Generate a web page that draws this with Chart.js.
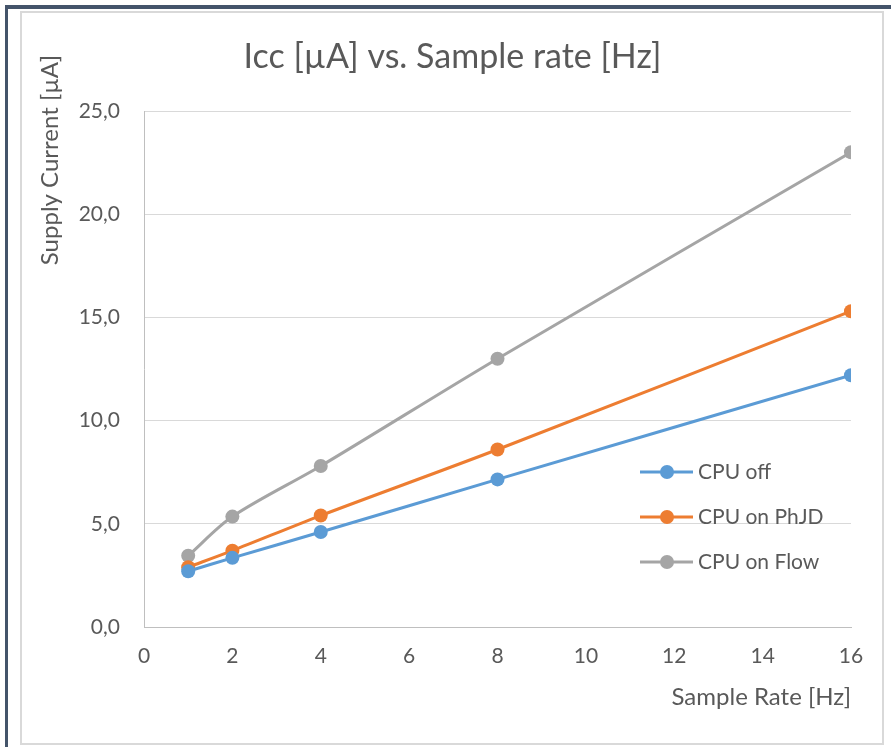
<!DOCTYPE html>
<html>
<head>
<meta charset="utf-8">
<script src="https://cdn.jsdelivr.net/npm/chart.js@4"></script>
<style>
html,body{margin:0;padding:0;background:#fff;}
#wrap{width:891px;height:747px;position:relative;}
</style>
</head>
<body>
<div id="wrap"><canvas id="c" width="891" height="747"></canvas></div>
<script>
const sampleRates = [1, 2, 4, 8, 16];
const cpuOff = [2.7, 3.35, 4.6, 7.15, 12.2];
const cpuOnPhJD = [2.9, 3.7, 5.4, 8.6, 15.3];
const cpuOnFlow = [3.45, 5.35, 7.8, 13.0, 23.0];
const seriesNames = ['CPU off', 'CPU on PhJD', 'CPU on Flow'];
const seriesColors = ['#5b9bd5', '#ed7d31', '#a5a5a5'];
const chartTitle = 'Icc [µA] vs. Sample rate [Hz]';
const yTitle = 'Supply Current [µA]';
const xTitle = 'Sample Rate [Hz]';

const FONT = 'Lato';
const TXT = '#595959';

function pts(vals){ return sampleRates.map((x,i)=>({x:x,y:vals[i]})); }
const allSeries = [cpuOff, cpuOnPhJD, cpuOnFlow];

const framePlugin = {
  id:'frame',
  beforeDraw(chart){
    const ctx = chart.ctx;
    ctx.save();
    ctx.fillStyle = '#fff';
    ctx.fillRect(0,0,chart.width,chart.height);
    ctx.fillStyle = '#44546a';
    ctx.fillRect(5,5,chart.width-5,4);
    ctx.fillRect(5,5,3,chart.height-5);
    ctx.strokeStyle = '#d9d9d9';
    ctx.lineWidth = 2;
    ctx.strokeRect(21,12,862,732);
    ctx.restore();
  },
  afterDraw(chart){
    const ctx = chart.ctx;
    ctx.save();
    ctx.fillStyle = TXT;
    ctx.font = '24px ' + FONT;
    ctx.translate(50,55);
    ctx.rotate(-Math.PI/2);
    ctx.textAlign = 'right';
    ctx.textBaseline = 'middle';
    ctx.fillText(yTitle,0,0);
    ctx.restore();
    ctx.save();
    const rows = [472, 517, 562];
    chart.data.datasets.forEach((ds,i)=>{
      const y = rows[i];
      ctx.strokeStyle = ds.borderColor;
      ctx.lineWidth = 3;
      ctx.beginPath();
      ctx.moveTo(640,y); ctx.lineTo(693,y); ctx.stroke();
      ctx.fillStyle = ds.backgroundColor;
      ctx.beginPath(); ctx.arc(667,y,7,0,Math.PI*2); ctx.fill();
      ctx.fillStyle = TXT;
      ctx.font = '21px ' + FONT;
      ctx.textAlign = 'left';
      ctx.textBaseline = 'middle';
      ctx.fillText(ds.label,698,y);
    });
    ctx.restore();
  }
};

new Chart(document.getElementById('c'), {
  type:'line',
  data:{
    datasets: allSeries.map((vals,i)=>({
      label: seriesNames[i],
      data: pts(vals),
      borderColor: seriesColors[i],
      backgroundColor: seriesColors[i],
      borderWidth: 3,
      pointRadius: 7,
      pointHoverRadius: 7,
      pointBorderWidth: 0,
      tension: 0.3
    }))
  },
  options:{
    responsive:false,
    animation:false,
    events:[],
    layout:{padding:{left:54,right:40,top:20,bottom:0}},
    plugins:{
      legend:{display:false},
      tooltip:{enabled:false},
      title:{
        display:true,
        text:chartTitle,
        color:TXT,
        font:{family:FONT,size:34,weight:'normal'},
        padding:{top:17,bottom:33.2}
      }
    },
    scales:{
      x:{
        type:'linear',
        min:0,max:16,
        afterFit(s){ s.height = 120; },
        ticks:{stepSize:2,color:TXT,font:{family:FONT,size:21},padding:17},
        grid:{display:false,drawTicks:false},
        border:{display:true,color:'#bfbfbf',width:1},
        title:{display:true,text:xTitle,align:'end',color:TXT,font:{family:FONT,size:24},padding:{top:0,bottom:35.6}}
      },
      y:{
        min:0,max:25,
        afterFit(s){ s.width = 90; },
        ticks:{stepSize:5,color:TXT,font:{family:FONT,size:21},padding:24,
          callback:(v)=>v.toFixed(1).replace('.',',')},
        grid:{color:'#d9d9d9',lineWidth:1,drawTicks:false},
        border:{display:true,color:'#bfbfbf',width:1}
      }
    }
  },
  plugins:[framePlugin]
});
</script>
</body>
</html>
